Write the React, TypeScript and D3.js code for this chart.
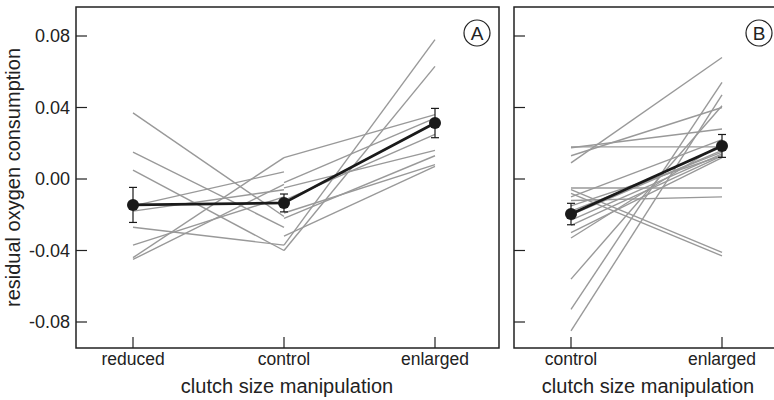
import React from "react";
import * as d3 from "d3";

// ---- data ----
const categoriesA = ["reduced", "control", "enlarged"];
const categoriesB = ["control", "enlarged"];
const yTicks = [-0.08, -0.04, 0.0, 0.04, 0.08];

// Panel A, individuals measured at reduced & control
const aReducedR = [0.037, 0.015, 0.005, -0.015, -0.018, -0.027, -0.037, -0.044, -0.045];
const aReducedC = [-0.021, -0.027, -0.04, 0.004, -0.006, -0.037, -0.01, 0.012, -0.003];
// Panel A, individuals measured at control & enlarged
const aEnlargedC = [-0.037, -0.04, 0.012, -0.002, -0.012, -0.005, -0.022, -0.019, -0.032];
const aEnlargedE = [0.078, 0.063, 0.036, 0.034, 0.025, 0.016, 0.013, 0.008, 0.007];

// Panel A means and error bars
const meanA = [-0.0145, -0.0134, 0.0313];
const errA = [0.0098, 0.005, 0.0082];

// Panel B, individuals measured at control & enlarged
const bControl = [0.018, 0.0175, 0.013, 0.009, -0.005, -0.006, -0.008, -0.01, -0.012, -0.015, -0.018, -0.02, -0.023, -0.026, -0.03, -0.033, -0.056, -0.073, -0.085];
const bEnlarged = [0.018, 0.028, 0.04, 0.068, -0.005, -0.041, -0.043, 0.022, -0.01, 0.013, 0.015, 0.016, 0.014, 0.013, 0.012, 0.02, 0.041, 0.054, 0.047];

const meanB = [-0.0196, 0.0185];
const errB = [0.006, 0.0064];

const fmt2 = d3.format(".2f");
const tickFmt = (v: number) => fmt2(v).replace("\u2212", "-");

export default function App() {
  const W = 774, H = 400;
  const top = 7, bottom = 348;
  const aLeft = 76, aRight = 499;
  const bLeft = 514, bRight = 790;

  const y = d3.scaleLinear().domain([-0.08, 0.08]).range([322, 36]);
  const xA = d3.scalePoint<string>().domain(categoriesA).range([133, 435]);
  const xB = d3.scalePoint<string>().domain(categoriesB).range([571, 722]);

  const line = d3.line<[number, number]>().x(d => d[0]).y(d => d[1]);
  const gray = "#999999";
  const dark = "#1a1a1a";
  const font = "'Liberation Sans', Arial, Helvetica, sans-serif";

  const pairLines = (xs: [number, number], v1: number[], v2: number[], key: string) =>
    v1.map((v, i) => (
      <path key={key + i} d={line([[xs[0], y(v)], [xs[1], y(v2[i])]]) || ""} fill="none" stroke={gray} strokeWidth={1.4} />
    ));

  const meanMarks = (xs: number[], means: number[], errs: number[], key: string) => (
    <g key={key}>
      <path d={line(xs.map((x, i) => [x, y(means[i])] as [number, number])) || ""} fill="none" stroke={dark} strokeWidth={2.8} />
      {xs.map((x, i) => (
        <g key={i}>
          <line x1={x} x2={x} y1={y(means[i] + errs[i])} y2={y(means[i] - errs[i])} stroke={dark} strokeWidth={1.2} />
          <line x1={x - 4} x2={x + 4} y1={y(means[i] + errs[i])} y2={y(means[i] + errs[i])} stroke={dark} strokeWidth={1.2} />
          <line x1={x - 4} x2={x + 4} y1={y(means[i] - errs[i])} y2={y(means[i] - errs[i])} stroke={dark} strokeWidth={1.2} />
          <circle cx={x} cy={y(means[i])} r={6} fill={dark} />
        </g>
      ))}
    </g>
  );

  const frame = (l: number, r: number) => (
    <rect x={l} y={top} width={r - l} height={bottom - top} fill="none" stroke="#222" strokeWidth={1.5} />
  );

  const yTickMarks = (l: number, labels: boolean) =>
    yTicks.map(t => (
      <g key={t}>
        <line x1={l} x2={l + 11} y1={y(t)} y2={y(t)} stroke="#222" strokeWidth={1.2} />
        {labels && (
          <text x={l - 6} y={y(t)} dy="0.36em" textAnchor="end" fontSize={18} fill="#222" fontFamily={font}>
            {tickFmt(t)}
          </text>
        )}
      </g>
    ));

  const xTickMarks = (scale: d3.ScalePoint<string>, cats: string[]) =>
    cats.map(c => (
      <g key={c}>
        <line x1={scale(c)!} x2={scale(c)!} y1={bottom} y2={bottom - 11} stroke="#222" strokeWidth={1.2} />
        <text x={scale(c)!} y={365} textAnchor="middle" fontSize={17.5} fill="#222" fontFamily={font}>
          {c}
        </text>
      </g>
    ));

  return (
    <svg width={W} height={H} style={{ position: "absolute", left: 0, top: 0, background: "#fff" }}>
      <rect x={0} y={0} width={W} height={H} fill="#fff" />
      {/* Panel A */}
      {pairLines([xA("reduced")!, xA("control")!], aReducedR, aReducedC, "ar")}
      {pairLines([xA("control")!, xA("enlarged")!], aEnlargedC, aEnlargedE, "ae")}
      {meanMarks(categoriesA.map(c => xA(c)!), meanA, errA, "ma")}
      {frame(aLeft, aRight)}
      {yTickMarks(aLeft, true)}
      {xTickMarks(xA, categoriesA)}
      <circle cx={477} cy={33} r={13} fill="none" stroke="#222" strokeWidth={1.2} />
      <text x={477} y={33} dy="0.36em" textAnchor="middle" fontSize={19} fill="#222" fontFamily={font}>A</text>
      <text x={287} y={393} textAnchor="middle" fontSize={20} fill="#222" fontFamily={font}>clutch size manipulation</text>
      <text transform={`translate(20,${(top + bottom) / 2}) rotate(-90)`} textAnchor="middle" fontSize={20} fill="#222" fontFamily={font}>
        residual oxygen consumption
      </text>

      {/* Panel B */}
      {pairLines([xB("control")!, xB("enlarged")!], bControl, bEnlarged, "b")}
      {meanMarks(categoriesB.map(c => xB(c)!), meanB, errB, "mb")}
      {frame(bLeft, bRight)}
      {yTickMarks(bLeft, false)}
      {xTickMarks(xB, categoriesB)}
      <circle cx={759} cy={33} r={13} fill="none" stroke="#222" strokeWidth={1.2} />
      <text x={759} y={33} dy="0.36em" textAnchor="middle" fontSize={19} fill="#222" fontFamily={font}>B</text>
      <text x={648} y={393} textAnchor="middle" fontSize={20} fill="#222" fontFamily={font}>clutch size manipulation</text>
    </svg>
  );
}
